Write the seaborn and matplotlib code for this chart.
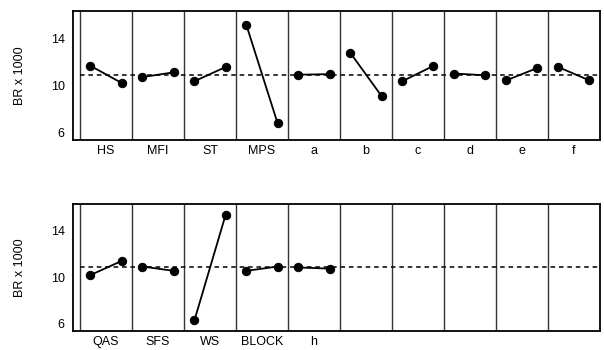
import numpy as np
import pandas as pd
import matplotlib
matplotlib.use("Agg")
import matplotlib.pyplot as plt
import seaborn as sns

# factor names and the two level means (BR x 1000)
top_factors = ['HS', 'MFI', 'ST', 'MPS', 'a', 'b', 'c', 'd', 'e', 'f']
top_low = [11.65, 10.7, 10.35, 15.1, 10.9, 12.75, 10.35, 11.0, 10.42, 11.55]
top_high = [10.2, 11.1, 11.55, 6.8, 10.95, 9.1, 11.65, 10.85, 11.47, 10.42]

bottom_factors = ['QAS', 'SFS', 'WS', 'BLOCK', 'h']
bottom_low = [10.2, 10.93, 6.3, 10.56, 10.85]
bottom_high = [11.41, 10.56, 15.37, 10.93, 10.75]

grand_mean = 10.9
y_ticks = [6, 10, 14]
n_panels = 10

sns.set_style("white")
plt.rcParams['font.family'] = ['Liberation Sans', 'DejaVu Sans']
plt.rcParams['text.color'] = 'black'
plt.rcParams['axes.labelcolor'] = 'black'
plt.rcParams['xtick.color'] = 'black'
plt.rcParams['ytick.color'] = 'black'

fig = plt.figure(figsize=(6.04, 3.5), dpi=100)
ax_top = fig.add_axes([0.121, 0.600, 0.872, 0.369])
ax_bot = fig.add_axes([0.121, 0.054, 0.872, 0.363])


def long_table(factors, low, high):
    rows = []
    for i, (f, lo, hi) in enumerate(zip(factors, low, high)):
        rows.append({'factor': f, 'x': i + 0.2, 'value': lo})
        rows.append({'factor': f, 'x': i + 0.8, 'value': hi})
    return pd.DataFrame(rows)


def draw_row(ax, factors, low, high):
    df = long_table(factors, low, high)
    sns.lineplot(data=df, x='x', y='value', units='factor', estimator=None,
                 color='black', marker='o', markersize=6, linewidth=1.3,
                 markeredgecolor='black', ax=ax)
    ax.axhline(grand_mean, xmin=0.135 / 10.135, color='black', linestyle=(0, (3, 2.5)),
               linewidth=1.1, zorder=1)
    for i in range(n_panels):
        ax.axvline(i, color='#333333', linewidth=1.0, zorder=0)
    ax.set_xlim(-0.135, n_panels)
    ax.set_ylim(5.38, 16.3)
    ax.set_yticks(y_ticks)
    ax.set_yticklabels([str(t) for t in y_ticks], fontsize=9)
    ax.set_xticks(df['x'])
    ax.set_xticklabels([])
    ax.tick_params(axis='x', direction='out', length=3, width=0.8, color='black')
    ax.tick_params(axis='y', direction='out', length=4, width=0.8, color='black', pad=2)
    for i, f in enumerate(factors):
        ax.text(i + 0.5, -0.035, f, transform=ax.get_xaxis_transform(),
                ha='center', va='top', fontsize=9, color='black')
    ax.set_xlabel('')
    ax.set_ylabel('BR x 1000', fontsize=9, labelpad=18)
    for s in ax.spines.values():
        s.set_visible(True)
        s.set_color('black')
        s.set_linewidth(1.3)


draw_row(ax_top, top_factors, top_low, top_high)
draw_row(ax_bot, bottom_factors, bottom_low, bottom_high)

fig.savefig('out.png', dpi=100)
